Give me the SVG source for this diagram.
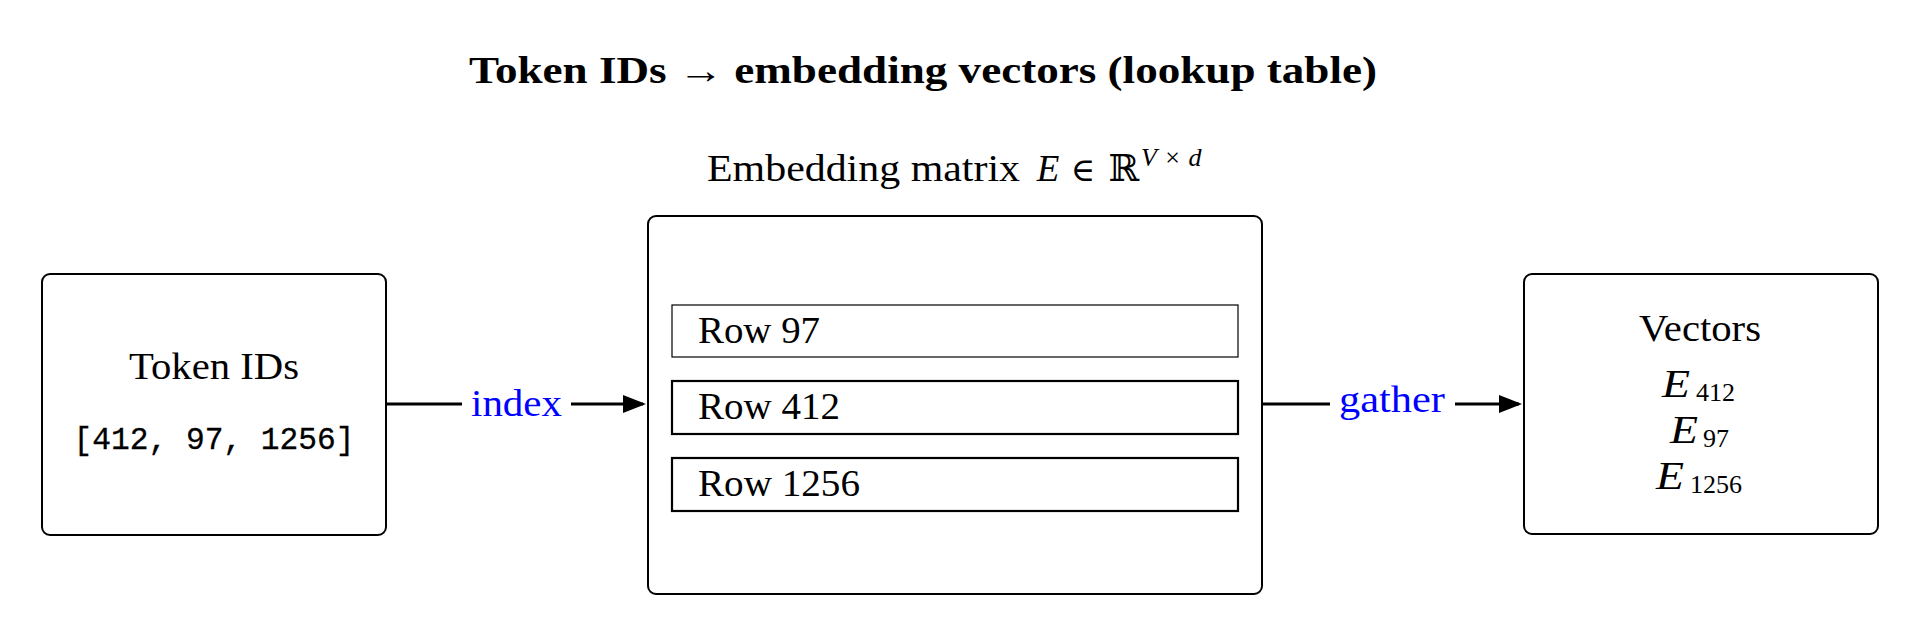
<svg xmlns="http://www.w3.org/2000/svg" width="1921" height="637" viewBox="0 0 1921 637">
<defs>
<style>
.box{fill:#fff;stroke:#000;stroke-width:2}
.row{fill:#fff;stroke:#000;stroke-width:2.2}
.thin{stroke-width:1.2}
.t{font-family:"Liberation Serif","DejaVu Serif",serif;font-size:37px;fill:#000}
.dv{font-family:"DejaVu Serif","Liberation Serif",serif;font-size:33px}
.b{font-weight:bold}
.it{font-style:italic}
.sm{font-size:26px}
.ve{font-size:40px}
.mono{font-family:"Liberation Mono","DejaVu Sans Mono",monospace;font-size:31px;fill:#000;stroke:#000;stroke-width:0.3}
.lbl{fill:#0000ff}
.conn{stroke:#000;stroke-width:3;fill:none;marker-end:url(#arr)}
</style>
<marker id="arr" markerUnits="userSpaceOnUse" viewBox="0 0 23 18" markerWidth="23" markerHeight="18" refX="20" refY="9" orient="auto">
<path d="M0 0 L23 9 L0 18 Z" fill="#000"/>
</marker>
</defs>
<rect width="1921" height="637" fill="#fff"/>

<g id="title">
<text class="t b" x="469" y="83" textLength="908" lengthAdjust="spacingAndGlyphs">Token IDs → embedding vectors (lookup table)</text>
</g>

<g id="connectors">
<path class="conn" d="M386 404 H462 M571 404 H643"/>
<path class="conn" d="M1262 404 H1330 M1455 404 H1519"/>
<text class="t lbl" x="516.5" y="416" text-anchor="middle" textLength="91" lengthAdjust="spacingAndGlyphs">index</text>
<text class="t lbl" x="1392" y="412" text-anchor="middle" textLength="106" lengthAdjust="spacingAndGlyphs">gather</text>
</g>

<g id="token-ids">
<rect class="box" x="42" y="274" width="344" height="261" rx="8"/>
<text class="t" x="214" y="379" text-anchor="middle" textLength="170" lengthAdjust="spacingAndGlyphs">Token IDs</text>
<text class="mono" x="214" y="449" text-anchor="middle" textLength="281" lengthAdjust="spacingAndGlyphs">[412, 97, 1256]</text>
</g>

<g id="embedding-matrix">
<text class="t" x="707" y="181" textLength="313" lengthAdjust="spacingAndGlyphs">Embedding matrix</text>
<text class="t it" x="1048" y="181" text-anchor="middle">E</text>
<text class="t dv" x="1083" y="181" text-anchor="middle">∈</text>
<text class="t" x="1123.5" y="181" text-anchor="middle">ℝ</text>
<text class="t it sm" x="1149" y="166" text-anchor="middle">V</text>
<text class="t sm" x="1172.5" y="166" text-anchor="middle">×</text>
<text class="t it sm" x="1195" y="166" text-anchor="middle">d</text>
<rect class="box" x="648" y="216" width="614" height="378" rx="8"/>
</g>

<g id="row-97">
<rect class="row thin" x="672" y="305" width="566" height="52"/>
<text class="t" x="698" y="343" textLength="122" lengthAdjust="spacingAndGlyphs">Row 97</text>
</g>
<g id="row-412">
<rect class="row" x="672" y="381" width="566" height="53"/>
<text class="t" x="698" y="419" textLength="142" lengthAdjust="spacingAndGlyphs">Row 412</text>
</g>
<g id="row-1256">
<rect class="row" x="672" y="458" width="566" height="53"/>
<text class="t" x="698" y="496" textLength="162" lengthAdjust="spacingAndGlyphs">Row 1256</text>
</g>

<g id="vectors">
<rect class="box" x="1524" y="274" width="354" height="260" rx="8"/>
<text class="t" x="1700" y="341" text-anchor="middle" textLength="122" lengthAdjust="spacingAndGlyphs">Vectors</text>
<text class="t it ve" x="1662" y="397" textLength="28" lengthAdjust="spacingAndGlyphs">E</text>
<text class="t sm" x="1696" y="401">412</text>
<text class="t it ve" x="1670" y="443" textLength="28" lengthAdjust="spacingAndGlyphs">E</text>
<text class="t sm" x="1703" y="447">97</text>
<text class="t it ve" x="1656" y="489" textLength="28" lengthAdjust="spacingAndGlyphs">E</text>
<text class="t sm" x="1690" y="493">1256</text>
</g>
</svg>
